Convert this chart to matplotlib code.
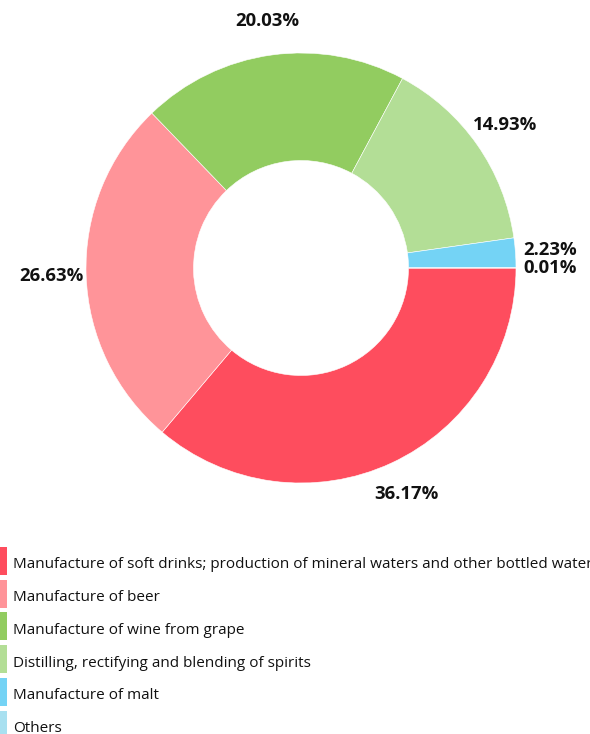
import matplotlib
matplotlib.use("Agg")
import matplotlib.pyplot as plt
from matplotlib.patches import Rectangle

categories = [
    "Manufacture of soft drinks; production of mineral waters and other bottled waters",
    "Manufacture of beer",
    "Manufacture of wine from grape",
    "Distilling, rectifying and blending of spirits",
    "Manufacture of malt",
    "Others",
]
shares = [36.17, 26.63, 20.03, 14.93, 2.23, 0.01]
colors = ["#fe4d5e", "#ff9499", "#92cc60", "#b3de96", "#74d3f5", "#a8e0f0"]

W, H = 590, 734
fig = plt.figure(figsize=(W / 100, H / 100), dpi=100)
plt.rcParams['font.family'] = ['Open Sans', 'DejaVu Sans']

# pie axes: center (301,268) radius 215 px
cx, cy, r = 301, 268, 215
ax = fig.add_axes([(cx - r) / W, (H - cy - r) / H, 2 * r / W, 2 * r / H])
wedges, texts, autotexts = ax.pie(
    shares, colors=colors, startangle=0, counterclock=False, radius=1,
    wedgeprops=dict(width=0.5, edgecolor="white", linewidth=0.4),
    autopct="%.2f%%", pctdistance=1.16,
    textprops=dict(fontsize=13.3, fontweight="bold", color="#111111"),
)
ax.set_xlim(-1, 1)
ax.set_ylim(-1, 1)
ax.set_aspect("equal")
ax.axis("off")

# legend drawn manually at bottom left
row0, step = 561, 32.7
for i, (cat, col) in enumerate(zip(categories, colors)):
    yc = row0 + i * step
    fig.patches.append(Rectangle((0, (H - yc - 14) / H), 7 / W, 28 / H,
                                 transform=fig.transFigure, facecolor=col,
                                 edgecolor="none"))
    fig.text(13 / W, (H - yc - 4) / H, cat, fontsize=11, color="#111111",
             va="center", ha="left")

fig.savefig("out.png", dpi=100)
